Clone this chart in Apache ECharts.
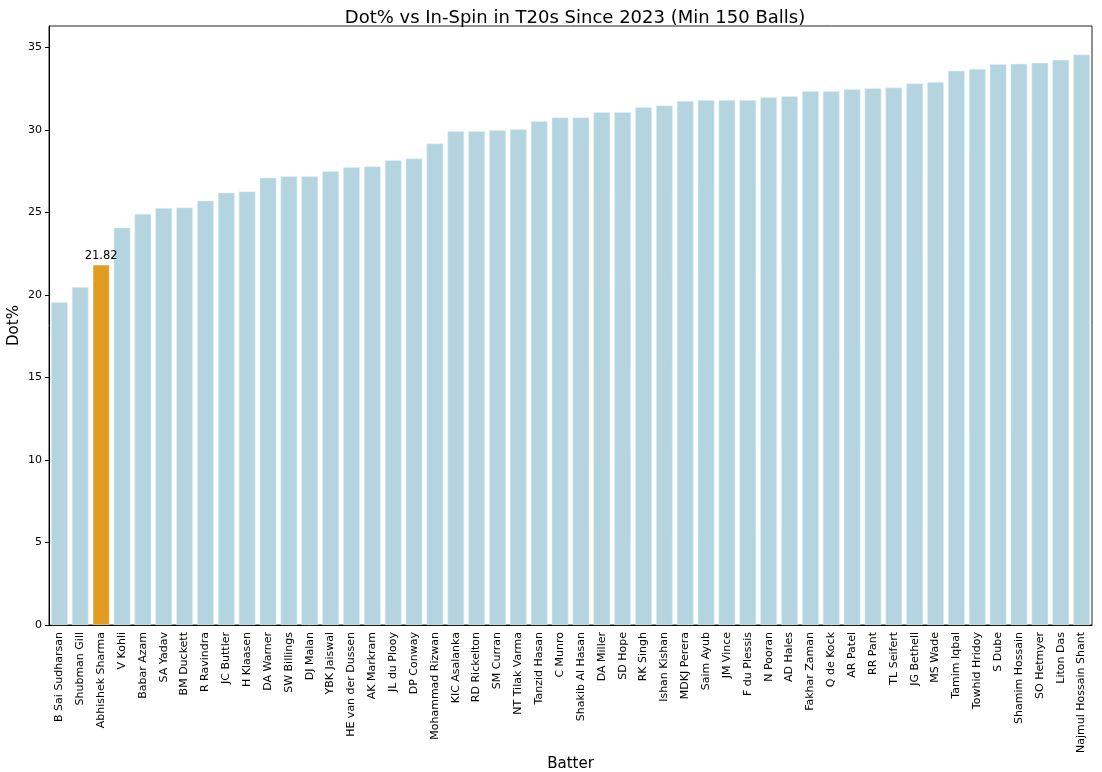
<!DOCTYPE html>
<html><head><meta charset="utf-8">
<script src="https://cdn.jsdelivr.net/npm/echarts@6/dist/echarts.min.js"></script>
<style>html,body{margin:0;padding:0;background:#fff}#c{width:1102px;height:772px}</style>
</head><body><div id="c"></div>
<script>
const batters = ["B Sai Sudharsan","Shubman Gill","Abhishek Sharma","V Kohli","Babar Azam","SA Yadav","BM Duckett","R Ravindra","JC Buttler","H Klaasen","DA Warner","SW Billings","DJ Malan","YBK Jaiswal","HE van der Dussen","AK Markram","JL du Plooy","DP Conway","Mohammad Rizwan","KIC Asalanka","RD Rickelton","SM Curran","NT Tilak Varma","Tanzid Hasan","C Munro","Shakib Al Hasan","DA Miller","SD Hope","RK Singh","Ishan Kishan","MDKJ Perera","Saim Ayub","JM Vince","F du Plessis","N Pooran","AD Hales","Fakhar Zaman","Q de Kock","AR Patel","RR Pant","TL Seifert","JG Bethell","MS Wade","Tamim Iqbal","Towhid Hridoy","S Dube","Shamim Hossain","SO Hetmyer","Liton Das","Najmul Hossain Shant"];
const dotPct = [19.56,20.47,21.82,24.07,24.90,25.26,25.30,25.71,26.19,26.27,27.10,27.18,27.18,27.49,27.73,27.78,28.16,28.26,29.17,29.92,29.92,29.98,30.04,30.52,30.75,30.75,31.07,31.07,31.37,31.47,31.74,31.80,31.80,31.80,31.98,32.04,32.34,32.34,32.46,32.52,32.56,32.81,32.89,33.58,33.68,33.98,34.00,34.06,34.24,34.56];
const highlight = "Abhishek Sharma";
const yTicks = [0,5,10,15,20,25,30,35];

const F = "DejaVu Sans";
const chart = echarts.init(document.getElementById('c'));
chart.setOption({
  animation:false,
  backgroundColor:'#fff',
  title:{text:'Dot% vs In-Spin in T20s Since 2023 (Min 150 Balls)',left:570,textAlign:'center',top:4,
    textStyle:{fontFamily:F,fontSize:18,fontWeight:'normal',color:'#000'}},
  grid:{left:49,right:10,top:26,bottom:147,containLabel:false,outerBoundsMode:'none',
    show:true,borderColor:'#222',borderWidth:1,backgroundColor:'transparent'},
  xAxis:{type:'category',data:batters,boundaryGap:true,
    name:'Batter',nameLocation:'middle',nameGap:132,nameMoveOverlap:false,
    nameTextStyle:{fontFamily:F,fontSize:15,color:'#000'},
    axisLine:{lineStyle:{color:'#000',width:1}},
    axisTick:{alignWithLabel:true,length:4,lineStyle:{color:'#000'}},
    axisLabel:{interval:0,rotate:90,fontFamily:F,fontSize:11,color:'#000',margin:7}},
  yAxis:{type:'value',min:0,max:36.29,interval:5,
    name:'Dot%',nameLocation:'middle',nameGap:27,nameMoveOverlap:false,
    nameTextStyle:{fontFamily:F,fontSize:15,color:'#000'},
    splitLine:{show:false},
    axisLine:{show:true,lineStyle:{color:'#000',width:1}},
    axisTick:{show:true,length:4,lineStyle:{color:'#000'},customValues:yTicks},
    axisLabel:{fontFamily:F,fontSize:11,color:'#000',margin:7,customValues:yTicks,
      formatter:v=>(yTicks.indexOf(v)>=0?String(v):'')}},
  series:[{type:'bar',barCategoryGap:'20%',
    data:dotPct.map((v,i)=>batters[i]===highlight?
      {value:v,itemStyle:{color:'#e39c22'},label:{show:true,position:'top',formatter:v.toFixed(2),fontFamily:F,fontSize:11.5,color:'#000',distance:3}}
      :{value:v}),
    itemStyle:{color:'#b4d5e0',borderColor:'#e6f0f3',borderWidth:0.5}}]
});
</script></body></html>
